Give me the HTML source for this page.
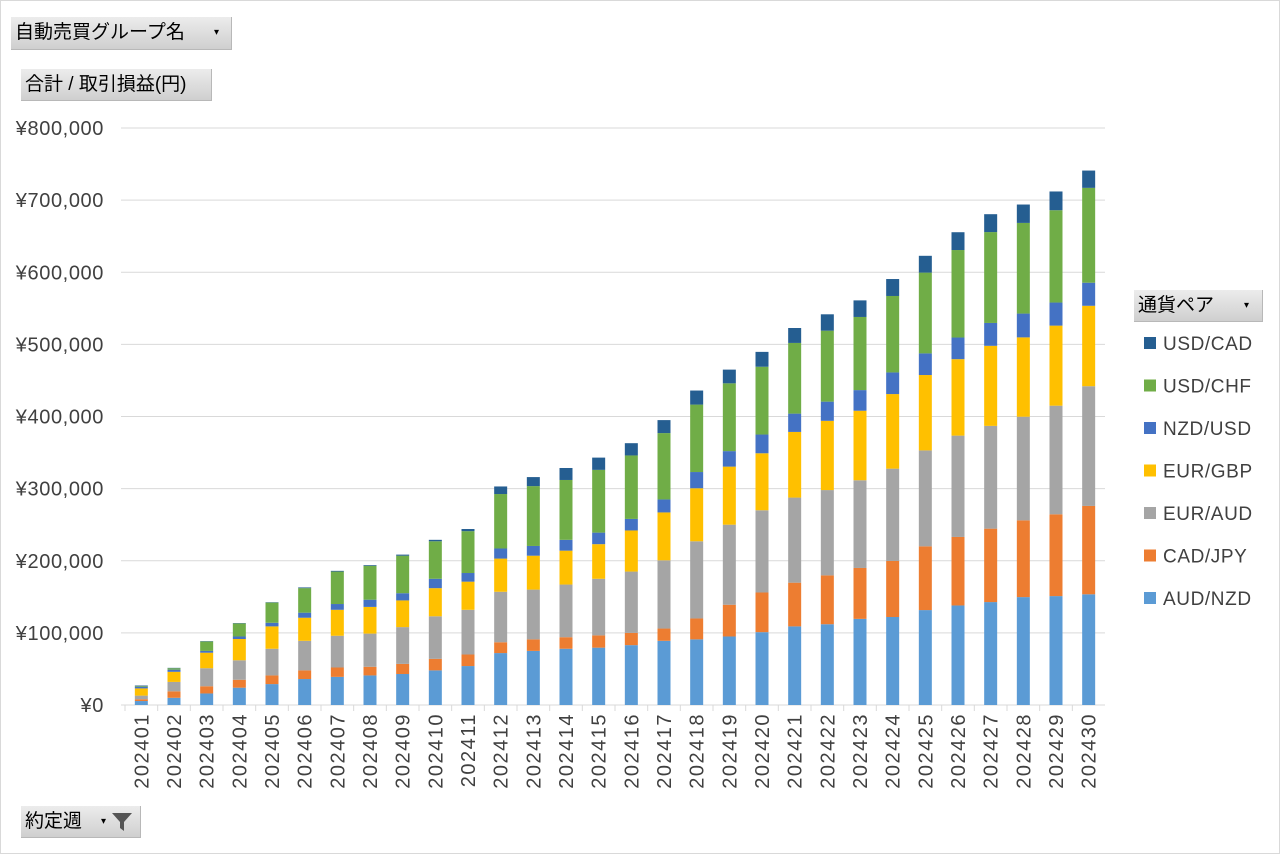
<!DOCTYPE html>
<html><head><meta charset="utf-8"><style>
body{margin:0;background:#fff;}
#wrap{position:relative;width:1278px;height:852px;border:1px solid #d9d9d9;overflow:hidden;font-family:"Liberation Sans","Noto Sans CJK JP",sans-serif;}
.btn{position:absolute;background:linear-gradient(#ececec,#cfcfcf);border-right:1px solid #b8b8b8;border-bottom:1px solid #b8b8b8;font-size:19px;color:#000;line-height:32px;box-sizing:border-box;padding-left:4px;white-space:nowrap;}
</style></head><body>
<div id="wrap">
<div class="btn" style="left:10px;top:16px;width:221px;height:33px;">自動売買グループ名 <span style="position:absolute;left:203px;font-size:10px;">▾</span></div>
<div class="btn" style="left:20px;top:68px;width:191px;height:32px;">合計 / 取引損益(円)</div>
<div class="btn" style="left:20px;top:805px;width:120px;height:32px;">約定週 <span style="position:absolute;left:80px;font-size:10px;">▾</span><svg style="position:absolute;left:90px;top:5px" width="22" height="22" viewBox="0 0 22 22"><path d="M1 2 H21 L13 11 V20 L9 17 V11 Z" fill="#555"/></svg></div>
<div class="btn" style="left:1133px;top:289px;width:129px;height:32px;">通貨ペア <span style="position:absolute;left:110px;font-size:10px;">▾</span></div>
<svg id="chart" width="1278" height="852" style="position:absolute;left:0;top:0;pointer-events:none"></svg>
</div>
<script>
const categories=["202401","202402","202403","202404","202405","202406","202407","202408","202409","202410","202411","202412","202413","202414","202415","202416","202417","202418","202419","202420","202421","202422","202423","202424","202425","202426","202427","202428","202429","202430"];
const seriesNames=["AUD/NZD","CAD/JPY","EUR/AUD","EUR/GBP","NZD/USD","USD/CHF","USD/CAD"];
const audNzd=[5.5,10,16,24,29,36,39,41,43,48,54,72,75,78,79.5,83,89,91,95,101,109,112,119.4,122,131.6,138,142.7,149.6,151,153.5];
const cadJpy=[2.5,9,10,11,12,12,13,12,14,16,16,15,16,16,17,17,17,29,44,55,60.6,67.7,70.6,77.7,88.4,95,101.8,106.4,113.4,122.5];
const eurAud=[5,13,25,27,37,41,44,46,51,59,62,70,69,73,78.5,85,94.6,107,111,114,118,118.3,121.6,128,133,140.5,142.5,143.7,150.6,166];
const eurGbp=[10,14,21.5,29.5,31,32,36,37,37,39,39,46,47,47,48,57,66.4,73.5,80.5,79,91,96,96.4,103.4,104.5,106,111,110,111,111.5];
const nzdUsd=[2,3,2.5,3.5,5,7,8,10,10,13,12,14,13.5,15,16,16,18,22.5,21.5,26,25.4,26.6,28.6,30,30,30,31.7,33,32,32];
const usdChf=[1,2,13,18,28,34,45,47,52,52,58,75.5,83,83,87,88,92,93.5,94,94,98,98.4,101.4,106,112,121.3,126,125.7,128,131.5];
const usdCad=[1,0.5,0.5,0.5,0.5,1,1,1,1.5,2,3,10.5,12.5,16.6,17,17,18,19.5,19,20.6,20.7,22.7,23,23.5,23.3,24.7,24.8,25.5,26,24];
const yTicks=[0,100000,200000,300000,400000,500000,600000,700000,800000];
const colors=["#5B9BD5","#ED7D31","#A5A5A5","#FFC000","#4472C4","#70AD47","#255E91"];
const series=[audNzd,cadJpy,eurAud,eurGbp,nzdUsd,usdChf,usdCad];
const svg=document.getElementById('chart');const NS='http://www.w3.org/2000/svg';
const X0=124,X1=1104,Y0=704,Y1=127,YMAX=800000;
const bw=(X1-X0)/categories.length;
const y=v=>Y0-(v/YMAX)*(Y0-Y1);
const xc=i=>X0+bw*(i+0.5);
function mk(t,a){const e=document.createElementNS(NS,t);for(const k in a)e.setAttribute(k,a[k]);svg.appendChild(e);return e;}
yTicks.forEach(v=>{
 const l=mk('line',{x1:X0-4,x2:X1,y1:y(v),y2:y(v),stroke:'#d9d9d9','stroke-width':1});
 
 
 const t=mk('text',{x:103,y:y(v)+7,'text-anchor':'end','font-size':20,'letter-spacing':0.6,fill:'#404040','font-family':'Liberation Sans, sans-serif'});
 t.textContent='¥'+v.toLocaleString('en-US');
 
 
});
const ax=mk('line',{x1:X0,x2:X1,y1:Y0,y2:Y0,stroke:'#d9d9d9'});


categories.forEach((c,i)=>{
 const tk=mk('line',{x1:X0+bw*i,x2:X0+bw*i,y1:Y0,y2:Y0+6,stroke:'#d9d9d9'});
 
 
 let cum=0;
 series.forEach((s,k)=>{
  const v=s[i]*1000;
  const r=mk('rect',{x:xc(i)-6.5,width:13,y:y(cum+v),height:Math.max(0,y(cum)-y(cum+v)),fill:colors[k]});
  
  
  cum+=v;
 });
 const t=mk('text',{x:0,y:0,'text-anchor':'end','font-size':20,'letter-spacing':1.5,fill:'#404040',transform:`translate(${xc(i)+7},712) rotate(-90)`,'font-family':'Liberation Sans, sans-serif'});
 t.textContent=c;
 
 
});
const order=[6,5,4,3,2,1,0];
order.forEach((k,j)=>{
 const cy=342+j*42.5;
 const r=mk('rect',{x:1143,y:cy-6,width:12,height:12,fill:colors[k]});
 
 
 const t=mk('text',{x:1162,y:cy+7,'font-size':19,'letter-spacing':0.6,fill:'#404040','font-family':'Liberation Sans, sans-serif'});
 t.textContent=seriesNames[k];
 
 
});
</script>
</body></html>
